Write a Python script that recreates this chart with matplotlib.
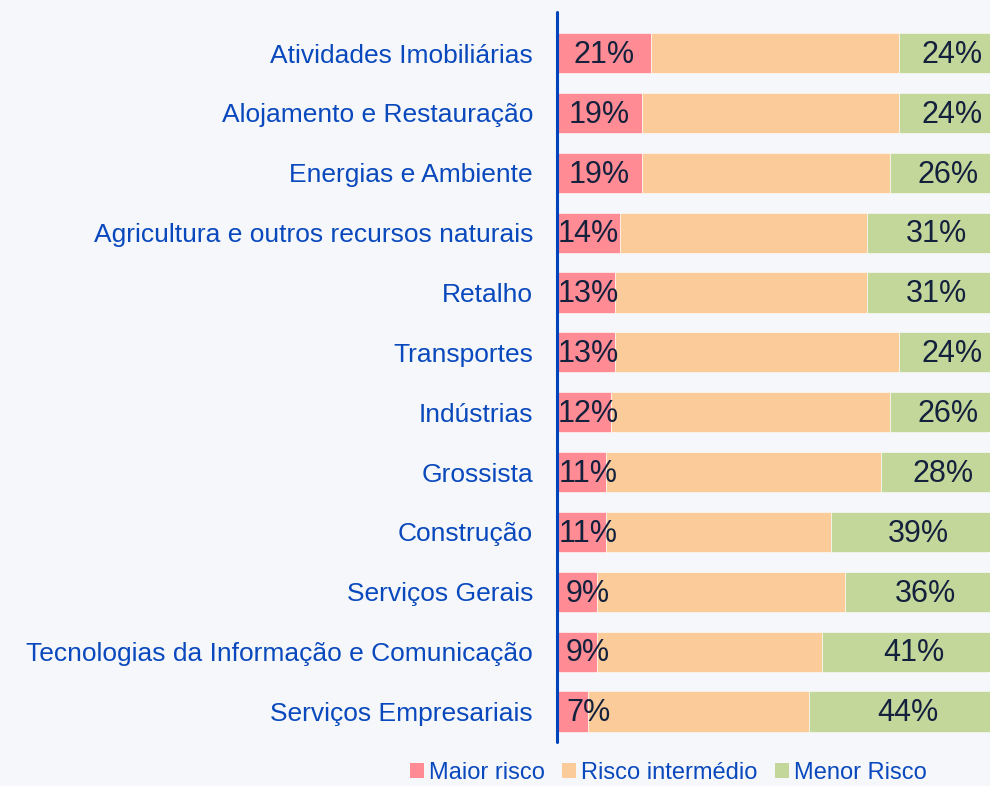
import numpy as np
import matplotlib.pyplot as plt
from matplotlib.patches import Patch

plt.rcParams["font.family"] = ["Liberation Sans", "DejaVu Sans"]

sectors = [
    "Atividades Imobiliárias",
    "Alojamento e Restauração",
    "Energias e Ambiente",
    "Agricultura e outros recursos naturais",
    "Retalho",
    "Transportes",
    "Indústrias",
    "Grossista",
    "Construção",
    "Serviços Gerais",
    "Tecnologias da Informação e Comunicação",
    "Serviços Empresariais",
]
maior_risco  = [21, 19, 19, 14, 13, 13, 12, 11, 11, 9, 9, 7]
risco_interm = [55, 57, 55, 55, 56, 63, 62, 61, 50, 55, 50, 49]
menor_risco  = [24, 24, 26, 31, 31, 24, 26, 28, 39, 36, 41, 44]
series_names = ["Maior risco", "Risco intermédio", "Menor Risco"]

BG      = "#f5f7fa"
C_RED   = "#ff8c94"
C_ORG   = "#fbcc99"
C_GRN   = "#c4d79b"
C_BLUE  = "#0a49bd"
C_TEXT  = "#14213d"

fig = plt.figure(figsize=(9.9, 7.86), dpi=100)
fig.patch.set_facecolor(BG)
# axes runs past the right edge of the figure, like the original crop
ax = fig.add_axes([556.5 / 990, 44 / 786, 450 / 990, 730 / 786])
ax.set_facecolor(BG)

y = np.arange(len(sectors))
red = np.array(maior_risco)
org = np.array(risco_interm)
grn = np.array(menor_risco)

h = 0.67
ax.barh(y, red, height=h, color=C_RED, edgecolor="white", linewidth=0.4, zorder=2)
ax.barh(y, org, left=red, height=h, color=C_ORG, edgecolor="white", linewidth=0.4, zorder=2)
ax.barh(y, grn, left=red + org, height=h, color=C_GRN, edgecolor="white", linewidth=0.4, zorder=2)

for i in range(len(sectors)):
    ax.text(max(red[i] / 2, 7.0), y[i] + 0.03, f"{red[i]}%", ha="center", va="center",
            fontsize=22, color=C_TEXT, zorder=3)
    ax.text(red[i] + org[i] + grn[i] / 2, y[i] + 0.03, f"{grn[i]}%", ha="center",
            va="center", fontsize=22, color=C_TEXT, zorder=3)

ax.set_xlim(0, 100)
ax.set_ylim(11.51, -0.685)
ax.set_yticks(y)
ax.set_yticklabels(sectors, fontsize=19, color=C_BLUE)
ax.tick_params(axis="y", length=0, pad=17)
ax.set_xticks([])
for s in ["top", "right", "bottom"]:
    ax.spines[s].set_visible(False)
ax.spines["left"].set_color("#0044bb")
ax.spines["left"].set_linewidth(2.2)
ax.spines["left"].set_capstyle("round")

handles = [Patch(facecolor=c, edgecolor="none") for c in (C_RED, C_ORG, C_GRN)]
leg = fig.legend(handles, series_names, loc="lower center", bbox_to_anchor=(0.675, -0.024),
                 ncol=3, frameon=False, fontsize=17, handlelength=0.6, handleheight=0.6,
                 handletextpad=0.2, columnspacing=0.75)
for t in leg.get_texts():
    t.set_color(C_BLUE)

fig.savefig("out.png", dpi=100, facecolor=BG)
